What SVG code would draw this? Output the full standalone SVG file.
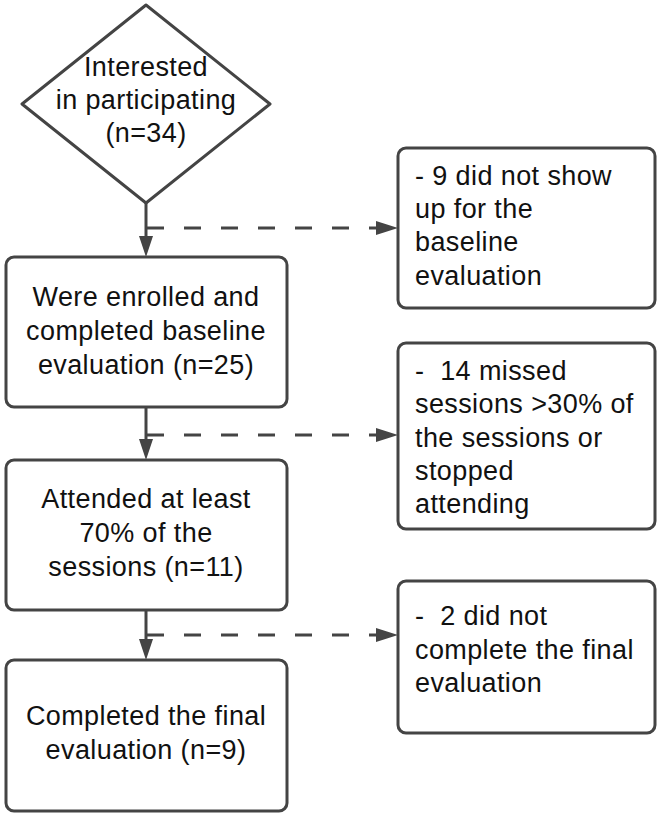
<svg xmlns="http://www.w3.org/2000/svg" width="661" height="818" viewBox="0 0 661 818">
<style>
.box{fill:#fff;stroke:#444;stroke-width:3}
.t{font-family:"Liberation Sans",Arial,sans-serif;font-size:27px;letter-spacing:0.4px;fill:#111}
.c{text-anchor:middle}
.ln{stroke:#444;stroke-width:3;fill:none}
.dash{stroke:#444;stroke-width:3;fill:none;stroke-dasharray:17 20}
.ah{fill:#444}
</style>
<rect width="661" height="818" fill="#fff"/>
<g id="connectors">
<line class="ln" x1="146" y1="203" x2="146" y2="238"/>
<polygon class="ah" points="139,236 153,236 146,257"/>
<line class="ln" x1="146" y1="407" x2="146" y2="441"/>
<polygon class="ah" points="139,439 153,439 146,460"/>
<line class="ln" x1="146" y1="610" x2="146" y2="641"/>
<polygon class="ah" points="139,639 153,639 146,660"/>
<line class="dash" x1="147" y1="228" x2="378" y2="228"/>
<polygon class="ah" points="376,221 376,235 398,228"/>
<line class="dash" x1="147" y1="435" x2="378" y2="435"/>
<polygon class="ah" points="376,428 376,442 398,435"/>
<line class="dash" x1="147" y1="635" x2="378" y2="635"/>
<polygon class="ah" points="376,628 376,642 398,635"/>
</g>
<g id="n_interested">
<polygon class="box" stroke-linejoin="round" points="146,5 270,104 146,203 22,104"/>
<text class="t c" x="146" y="76">Interested</text>
<text class="t c" x="146" y="109">in participating</text>
<text class="t c" x="146" y="142">(n=34)</text>
</g>
<g id="n_enrolled">
<rect class="box" x="6" y="257" width="281" height="150" rx="8"/>
<text class="t c" x="146" y="306">Were enrolled and</text>
<text class="t c" x="146" y="340">completed baseline</text>
<text class="t c" x="146" y="374">evaluation (n=25)</text>
</g>
<g id="n_attended">
<rect class="box" x="6" y="460" width="281" height="150" rx="8"/>
<text class="t c" x="146" y="508">Attended at least</text>
<text class="t c" x="146" y="542">70% of the</text>
<text class="t c" x="146" y="576">sessions (n=11)</text>
</g>
<g id="n_completed">
<rect class="box" x="6" y="660" width="281" height="151" rx="8"/>
<text class="t c" x="146" y="725">Completed the final</text>
<text class="t c" x="146" y="759">evaluation (n=9)</text>
</g>
<g id="n_noshow">
<rect class="box" x="398" y="148" width="257" height="160" rx="8"/>
<text class="t" x="415" y="185">- 9 did not show</text>
<text class="t" x="415" y="218">up for the</text>
<text class="t" x="415" y="251">baseline</text>
<text class="t" x="415" y="285">evaluation</text>
</g>
<g id="n_missed">
<rect class="box" x="398" y="343" width="257" height="186" rx="8"/>
<text class="t" x="415" y="380" xml:space="preserve">-  14 missed</text>
<text class="t" x="415" y="413">sessions &gt;30% of</text>
<text class="t" x="415" y="447">the sessions or</text>
<text class="t" x="415" y="480">stopped</text>
<text class="t" x="415" y="513">attending</text>
</g>
<g id="n_notfinal">
<rect class="box" x="398" y="581" width="257" height="152" rx="8"/>
<text class="t" x="415" y="625" xml:space="preserve">-  2 did not</text>
<text class="t" x="415" y="659">complete the final</text>
<text class="t" x="415" y="692">evaluation</text>
</g>
</svg>
